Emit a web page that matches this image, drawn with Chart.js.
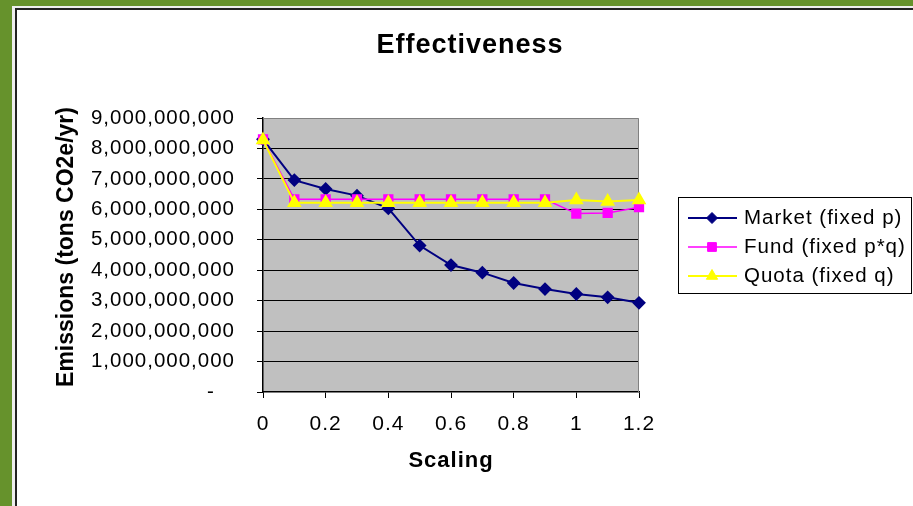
<!DOCTYPE html>
<html>
<head>
<meta charset="utf-8">
<script src="https://cdn.jsdelivr.net/npm/chart.js@4/dist/chart.umd.min.js"></script>
<style>
  html, body { margin: 0; padding: 0; background: #ffffff; }
  #c { display: block; }
</style>
</head>
<body>
<canvas id="c" width="913" height="506"></canvas>
<script>
// Scaling factor applied to each policy instrument
const scaling = [0, 0.1, 0.2, 0.3, 0.4, 0.5, 0.6, 0.7, 0.8, 0.9, 1.0, 1.1, 1.2];

// Emissions, tons CO2e per year
const market = [8.30e9, 6.96e9, 6.67e9, 6.45e9, 6.03e9, 4.81e9, 4.17e9, 3.92e9, 3.58e9, 3.38e9, 3.22e9, 3.11e9, 2.93e9];
const fund   = [8.30e9, 6.33e9, 6.33e9, 6.33e9, 6.33e9, 6.33e9, 6.33e9, 6.33e9, 6.33e9, 6.33e9, 5.86e9, 5.88e9, 6.07e9];
const quota  = [8.28e9, 6.22e9, 6.22e9, 6.22e9, 6.22e9, 6.22e9, 6.22e9, 6.22e9, 6.22e9, 6.22e9, 6.31e9, 6.26e9, 6.31e9];

const seriesNames = ['Market (fixed p)', 'Fund (fixed p*q)', 'Quota (fixed q)'];
const xTicks = [0, 0.2, 0.4, 0.6, 0.8, 1, 1.2];
const chartTitle = 'Effectiveness';
const yTitle = 'Emissions (tons CO2e/yr)';
const xTitle = 'Scaling';

const FONT = '"Liberation Sans", Arial, sans-serif';

const toPoints = arr => arr.map((v, i) => ({ x: scaling[i], y: v }));

// Page frame, grey plotting area and the titles
const framePlugin = {
  id: 'frame',
  beforeDraw(chart) {
    const { ctx, chartArea: a } = chart;
    ctx.letterSpacing = '1px';
    ctx.save();
    ctx.fillStyle = '#ffffff';
    ctx.fillRect(0, 0, chart.width, chart.height);
    ctx.fillStyle = '#66922c';
    ctx.fillRect(0, 0, chart.width, 6);
    ctx.fillRect(0, 0, 12, chart.height);
    ctx.fillStyle = '#eeeeee';
    ctx.fillRect(12, 6, chart.width, 2);
    ctx.fillRect(12, 6, 3, chart.height);
    ctx.fillStyle = '#222222';
    ctx.fillRect(15, 8, chart.width, 2);
    ctx.fillRect(15, 8, 2, chart.height);
    ctx.fillStyle = '#c0c0c0';
    ctx.fillRect(a.left, a.top, a.right - a.left, a.bottom - a.top);

    // chart title
    ctx.fillStyle = '#000000';
    ctx.font = 'bold 27px ' + FONT;
    ctx.textAlign = 'center';
    ctx.textBaseline = 'middle';
    ctx.fillText(chartTitle, 470, 46);

    // vertical axis title
    ctx.letterSpacing = '0px';
    ctx.font = 'bold 23px ' + FONT;
    ctx.translate(67, 247);
    ctx.rotate(-Math.PI / 2);
    ctx.fillText(yTitle, 0, 0);
    ctx.restore();
  },
  beforeDatasetsDraw(chart) {
    const { ctx, chartArea: a } = chart;
    ctx.save();
    ctx.strokeStyle = '#808080';
    ctx.lineWidth = 1;
    ctx.beginPath();
    ctx.moveTo(a.left, a.top + 0.5);
    ctx.lineTo(a.right - 0.5, a.top + 0.5);
    ctx.lineTo(a.right - 0.5, a.bottom);
    ctx.stroke();
    ctx.restore();
  }
};

// Boxed legend with line + marker samples
function drawMarker(ctx, style, x, y, r) {
  ctx.beginPath();
  if (style === 'rectRot') {
    ctx.moveTo(x - r, y); ctx.lineTo(x, y - r); ctx.lineTo(x + r, y); ctx.lineTo(x, y + r);
  } else if (style === 'rect') {
    const s = r * Math.SQRT1_2;
    ctx.rect(x - s, y - s, 2 * s, 2 * s);
  } else {
    for (let k = 0; k < 3; k++) {
      const ang = k * 2 * Math.PI / 3;
      const px = x + Math.sin(ang) * r, py = y - Math.cos(ang) * r;
      if (k === 0) ctx.moveTo(px, py); else ctx.lineTo(px, py);
    }
  }
  ctx.closePath();
  ctx.fill();
  ctx.stroke();
}

const legendPlugin = {
  id: 'boxLegend',
  afterDraw(chart) {
    const { ctx } = chart;
    const box = { x: 678, y: 197, w: 233, h: 96 };
    ctx.save();
    ctx.strokeStyle = '#000000';
    ctx.lineWidth = 1;
    ctx.strokeRect(box.x + 0.5, box.y + 0.5, box.w, box.h);
    ctx.font = '20.5px ' + FONT;
    ctx.textBaseline = 'middle';
    ctx.textAlign = 'left';
    const rows = [218, 247, 276];
    [0, 1, 2].forEach((idx, k) => {
      const ds = chart.data.datasets[idx];
      const y = rows[k];
      ctx.strokeStyle = ds.borderColor;
      ctx.lineWidth = ds.borderWidth;
      ctx.beginPath();
      ctx.moveTo(688, y); ctx.lineTo(737, y);
      ctx.stroke();
      ctx.fillStyle = ds.pointBackgroundColor;
      ctx.lineWidth = 1;
      drawMarker(ctx, ds.pointStyle, 712, y, ds.pointRadius);
      ctx.fillStyle = '#000000';
      ctx.fillText(seriesNames[idx], 744, y);
    });
    ctx.restore();
  }
};

new Chart(document.getElementById('c'), {
  type: 'line',
  data: {
    datasets: [
      {
        label: seriesNames[0], data: toPoints(market), order: 3,
        borderColor: '#000080', backgroundColor: '#000080', borderWidth: 2,
        pointStyle: 'rectRot', pointRadius: 5.5, pointBackgroundColor: '#000080', pointBorderColor: '#000080',
        clip: false
      },
      {
        label: seriesNames[1], data: toPoints(fund), order: 2,
        borderColor: '#ff00ff', backgroundColor: '#ff00ff', borderWidth: 1.5,
        pointStyle: 'rect', pointRadius: 6.2, pointBackgroundColor: '#ff00ff', pointBorderColor: '#ff00ff',
        clip: false
      },
      {
        label: seriesNames[2], data: toPoints(quota), order: 1,
        borderColor: '#ffff00', backgroundColor: '#ffff00', borderWidth: 2,
        pointStyle: 'triangle', pointRadius: 6.5, pointBackgroundColor: '#ffff00', pointBorderColor: '#ffff00',
        clip: false
      }
    ]
  },
  options: {
    responsive: false,
    animation: false,
    devicePixelRatio: 1,
    layout: { padding: { left: 16, top: 118, right: 274, bottom: 0 } },
    elements: { line: { tension: 0 }, point: { borderWidth: 1, hoverRadius: 6 } },
    plugins: {
      legend: { display: false },
      tooltip: { enabled: false },
      title: { display: false }
    },
    scales: {
      x: {
        type: 'linear',
        min: 0, max: 1.2,
        afterBuildTicks: s => { s.ticks = xTicks.map(v => ({ value: v })); },
        afterFit: s => { s.height = 114; },
        ticks: {
          color: '#000000',
          font: { family: FONT, size: 21 },
          padding: 14,
          maxRotation: 0,
          callback: v => String(+Number(v).toFixed(1))
        },
        grid: { drawOnChartArea: false, drawTicks: true, tickLength: 6, tickColor: '#000000', tickWidth: 1 },
        border: { color: '#000000', width: 1.5 },
        title: {
          display: true, text: xTitle, color: '#000000',
          font: { family: FONT, size: 22, weight: 'bold' },
          padding: { top: 0, bottom: 32 }
        }
      },
      y: {
        type: 'linear',
        min: 0, max: 9e9,
        afterFit: s => { s.width = 247; },
        ticks: {
          stepSize: 1e9,
          color: '#000000',
          font: { family: FONT, size: 20.5 },
          padding: 22,
          callback: v => v === 0 ? '-   ' : Number(v).toLocaleString('en-US')
        },
        grid: {
          color: c => (c.tick && c.tick.value > 0 && c.tick.value < 9e9) ? '#000000' : 'rgba(0,0,0,0)',
          tickColor: '#000000',
          tickLength: 6,
          lineWidth: 1
        },
        border: { color: '#000000', width: 1.5 },
        title: { display: false }
      }
    }
  },
  plugins: [framePlugin, legendPlugin]
});
</script>
</body>
</html>
